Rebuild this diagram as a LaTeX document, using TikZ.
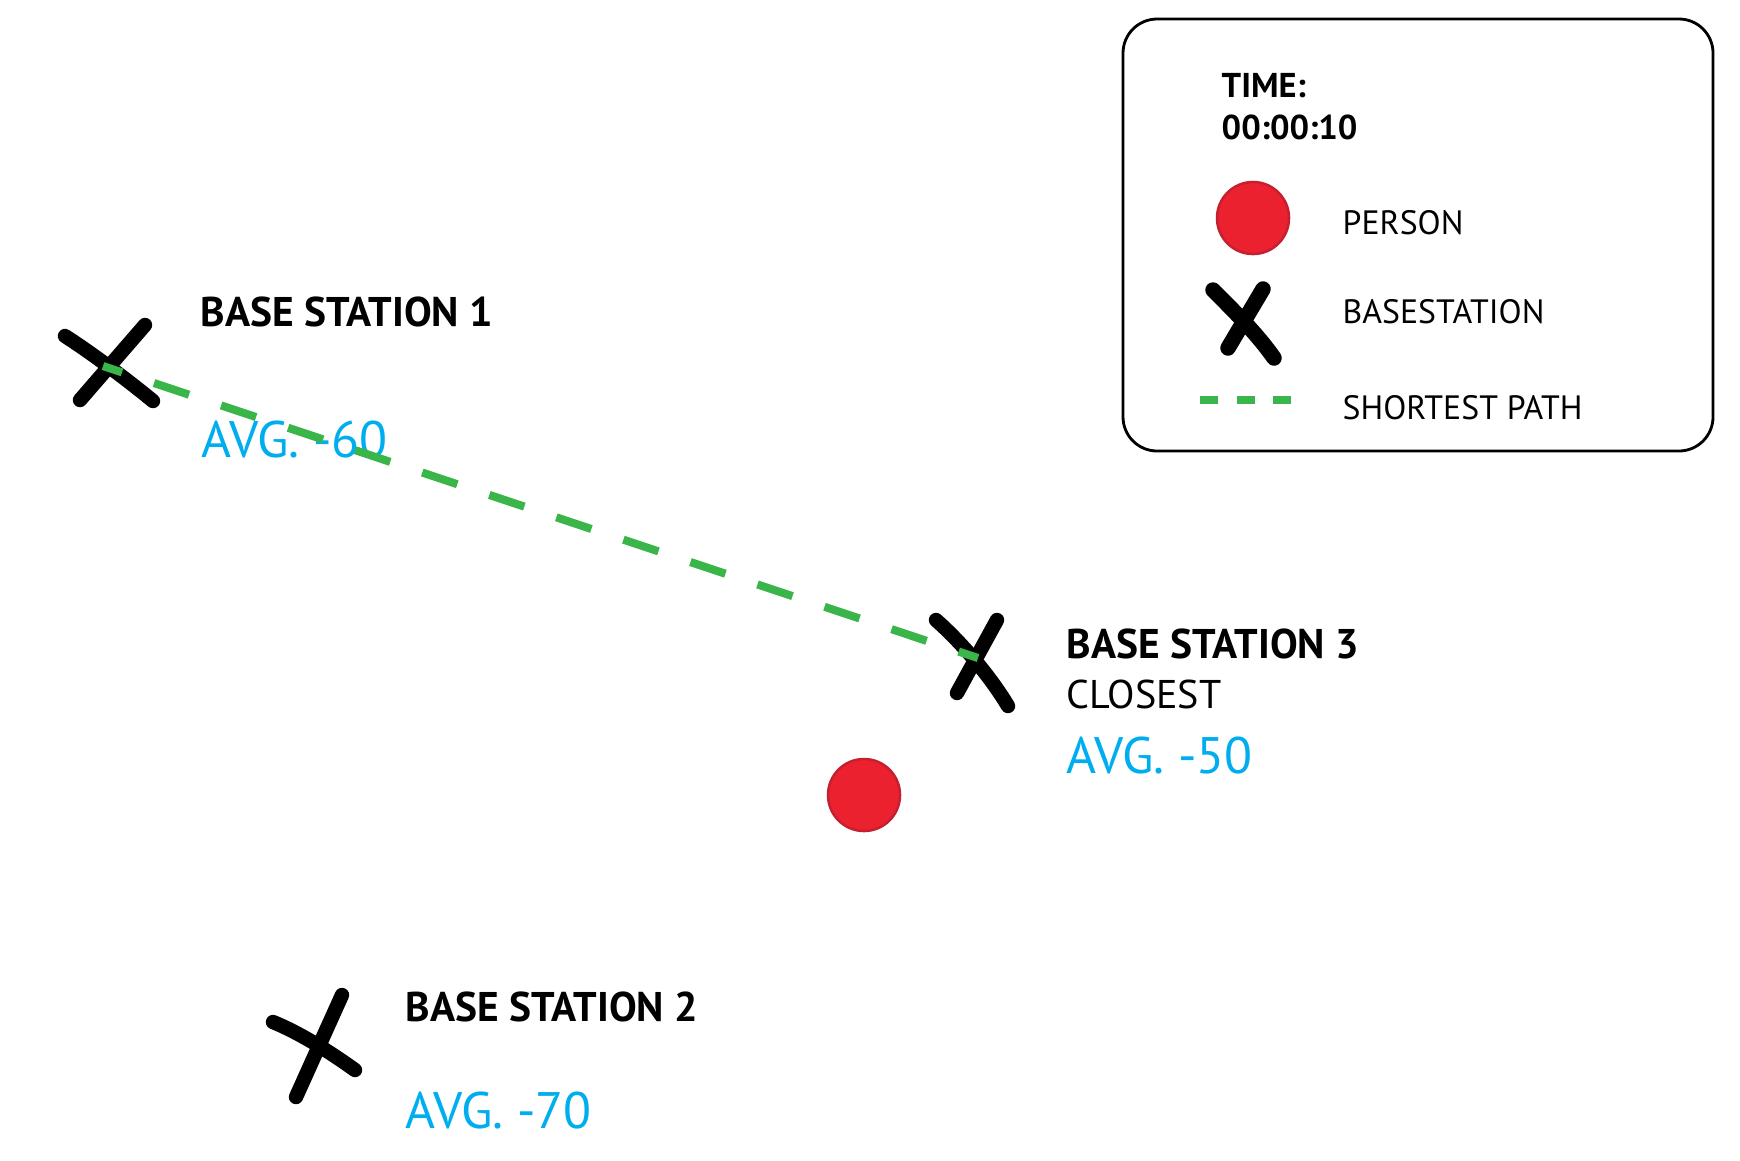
\documentclass[tikz,border=0pt]{standalone}
\usepackage{fontspec}
\setmainfont{PT Sans}
\usepackage{xcolor}
\usepackage{tikz}

\definecolor{pathgreen}{HTML}{39B54A}
\definecolor{avgblue}{HTML}{00AEEF}
\definecolor{personred}{HTML}{EC2130}
\definecolor{personedge}{HTML}{C4202F}

\tikzset{
	stationx/.style={line width=4.1pt, line cap=round},
	shortest/.style={pathgreen, line width=2.3pt, dash pattern=on 10.5pt off 9.6pt, dash phase=4.8pt},
	person/.style={circle, fill=personred, draw=personedge, line width=0.7pt, minimum size=20.5pt, inner sep=0pt},
	stationname/.style={anchor=base west, inner sep=0pt, font=\bfseries\fontsize{11.8}{14}\selectfont},
	stationnote/.style={anchor=base west, inner sep=0pt, font=\fontsize{11.4}{14}\selectfont},
	avgtext/.style={anchor=base west, inner sep=0pt, text=avgblue, font=\fontsize{14.6}{17}\selectfont},
	legendtext/.style={anchor=base west, inner sep=0pt, font=\fontsize{9.6}{11}\selectfont}
}

\begin{document}
\begin{tikzpicture}[x=0.01cm, y=-0.01cm]
			\useasboundingbox (0,0) rectangle (1740,1160);
			% base stations and the person
			\coordinate (bs1) at (103,366);
			\coordinate (bs2) at (317,1042);
			\coordinate (bs3) at (978,658);
			\node[person] (person) at (864,795) {};
			\draw [stationx] (65,336) .. controls (90,352) and (125,378) .. (153,401);
			\draw [stationx] (145,325) -- (80,400);
			\draw [stationx] (273,1022) .. controls (300,1033) and (330,1052) .. (355,1070);
			\draw [stationx] (342,995) -- (296,1097);
			\draw [stationx] (936,620) .. controls (962,643) and (990,676) .. (1008,706);
			\draw [stationx] (997,620) -- (957,693);
			% labels
			\node[stationname] (bs1name) at (200,326) {BASE STATION 1};
			\node[avgtext] (bs1avg) at (201,457) {AVG. -60};
			\node[stationname] (bs2name) at (405,1021) {BASE STATION 2};
			\node[avgtext] (bs2avg) at (405,1128) {AVG. -70};
			\node[stationname] (bs3name) at (1066,658) {BASE STATION 3};
			\node[stationnote] (bs3note) at (1066,708) {CLOSEST};
			\node[avgtext] (bs3avg) at (1066,773) {AVG. -50};
			\draw [shortest] (bs1) -- (bs3);
			% legend
			\draw [line width=0.8pt, rounded corners=9.7pt] (1123,19) rectangle (1713,451);
			\node[legendtext, font=\bfseries\fontsize{9.8}{11}\selectfont] (timehead) at (1221,97) {TIME:};
			\node[legendtext, font=\bfseries\fontsize{9.8}{11}\selectfont] (timeval) at (1221,139) {00:00:10};
			\node[person] (personkey) at (1253,218) {};
			\node[legendtext] (persontext) at (1342,234) {PERSON};
			\draw [stationx, line width=4.4pt] (1213,290) .. controls (1235,312) and (1258,335) .. (1274,358);
			\draw [stationx, line width=4.4pt] (1263,289) -- (1228,348);
			\node[legendtext] (stationtext) at (1342,323) {BASESTATION};
			\coordinate (pathkeyA) at (1200,400);
			\coordinate (pathkeyB) at (1292,400);
			\draw [pathgreen, line width=2.5pt, dash pattern=on 5.2pt off 5.2pt] (pathkeyA) -- (pathkeyB);
			\node[legendtext] (pathtext) at (1342,419) {SHORTEST PATH};
		\end{tikzpicture}
\end{document}
